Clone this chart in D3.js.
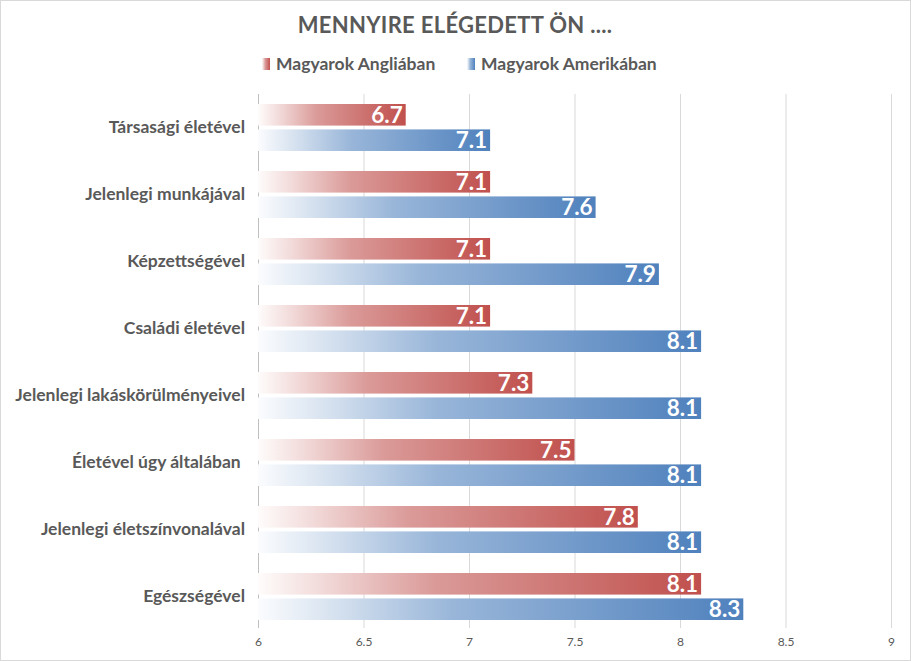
<!DOCTYPE html>
<html><head><meta charset="utf-8">
<script src="https://cdn.jsdelivr.net/npm/d3@7"></script>
<style>body{margin:0;background:#fff}svg{display:block}</style>
</head><body>
<svg id="c" width="911" height="661"></svg>
<script>
const categories = ["Társasági életével","Jelenlegi munkájával","Képzettségével","Családi életével","Jelenlegi lakáskörülményeivel","Életével úgy általában ","Jelenlegi életszínvonalával","Egészségével"];
const seriesNames = ["Magyarok Angliában","Magyarok Amerikában"];
const anglia = [6.7,7.1,7.1,7.1,7.3,7.5,7.8,8.1];
const amerika = [7.1,7.6,7.9,8.1,8.1,8.1,8.1,8.3];
const ticks = [6,6.5,7,7.5,8,8.5,9];
const colors = ["#c0504d","#4f81bd"];

const svg = d3.select("#c");
const W=911,H=661;
const font = "Lato, 'Open Sans', sans-serif";
svg.append("rect").attr("x",0.5).attr("y",0.5).attr("width",W-1).attr("height",H-1).attr("fill","#fff").attr("stroke","#d9d9d9");

const defs = svg.append("defs");
colors.forEach((c,i)=>{
  const g = defs.append("linearGradient").attr("id","g"+i).attr("x1","0").attr("x2","1").attr("y1","0").attr("y2","0");
  [[0,0.02],[0.15,0.22],[0.4,0.58],[1,1]].forEach(([o,t])=>{
    g.append("stop").attr("offset",o).attr("stop-color",d3.interpolateRgb("#ffffff", c)(t));
  });
});

const x = d3.scaleLinear().domain([6,9]).range([258,891]);
const y = d3.scaleBand().domain(categories).range([94,630]);
const inner = d3.scaleBand().domain([0,1]).range([10,57]).paddingInner(0.15);

svg.append("g").selectAll("line").data(ticks).join("line")
  .attr("x1",d=>x(d)+0.5).attr("x2",d=>x(d)+0.5).attr("y1",94).attr("y2",628)
  .attr("stroke",d=>d===6?"#bfbfbf":"#d9d9d9").attr("stroke-width",1);

const xAxis = d3.axisBottom(x).tickValues(ticks).tickSize(0).tickPadding(0).tickFormat(d3.format("~g"));
const ax = svg.append("g").attr("transform","translate(0,637)").call(xAxis);
ax.select(".domain").remove();
ax.selectAll("text").attr("font-family",font).attr("font-size",12).attr("fill","#595959").attr("dy","0.71em");

const yAxis = d3.axisLeft(y).tickSize(0).tickPadding(13);
const ay = svg.append("g").attr("transform","translate(258,0)").call(yAxis);
ay.select(".domain").remove();
ay.selectAll("text").attr("font-family",font).attr("font-size",17.5).attr("font-weight","bold").attr("fill","#595959").style("white-space","pre");

[anglia, amerika].forEach((vals,si)=>{
  const g = svg.append("g");
  g.selectAll("rect").data(vals).join("rect")
    .attr("x",x(6)).attr("y",(d,i)=>y(categories[i])+inner(si))
    .attr("width",d=>x(d)-x(6)).attr("height",inner.bandwidth())
    .attr("fill","url(#g"+si+")");
  g.selectAll("text").data(vals).join("text")
    .attr("x",d=>x(d)-3).attr("y",(d,i)=>y(categories[i])+inner(si)+inner.bandwidth()/2)
    .attr("text-anchor","end").attr("dy","0.36em")
    .attr("font-family",font).attr("font-weight","bold").attr("font-size",22.5).attr("fill","#fff")
    .text(d=>d3.format(".1f")(d));
});

svg.append("text").attr("x",455).attr("y",33).attr("text-anchor","middle")
  .attr("font-family",font).attr("font-weight","bold").attr("font-size",22).attr("fill","#595959")
  .attr("letter-spacing","0.3").text("MENNYIRE ELÉGEDETT ÖN ....");

const leg = [{x:262},{x:467}];
seriesNames.forEach((n,i)=>{
  svg.append("rect").attr("x",leg[i].x).attr("y",58).attr("width",8).attr("height",12).attr("fill","url(#g"+i+")");
  svg.append("text").attr("x",leg[i].x+14).attr("y",70).attr("font-family",font).attr("font-weight","bold")
    .attr("font-size",17.5).attr("fill","#595959").text(n);
});
</script>
</body></html>
